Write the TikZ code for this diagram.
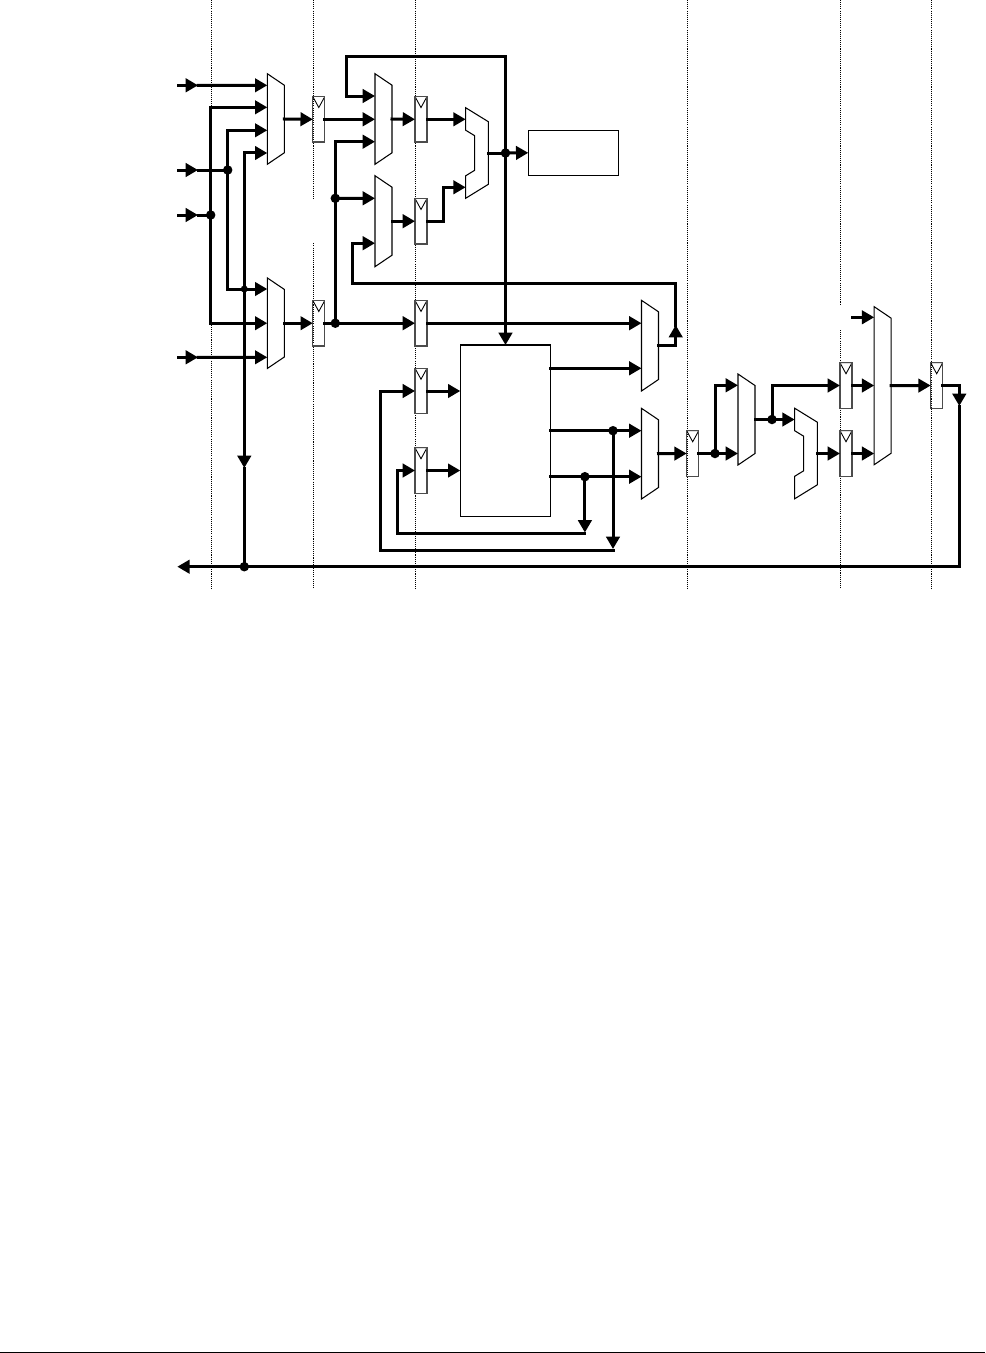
\documentclass[tikz,border=0pt]{standalone}
\usepackage{tikz}
\usetikzlibrary{arrows.meta}

\begin{document}
\begin{tikzpicture}[
    x=0.02cm, y=-0.02cm,
    wire/.style={line width=0.06cm, line cap=rect},
    bus/.style={wire, ->, >={Triangle[length=7pt, width=7.6pt]}},
    phase/.style={line width=0.55pt, dash pattern=on 0.6pt off 0.6pt},
    dot/.style={circle, fill=black, inner sep=0pt, minimum size=0.19cm},
    smalldot/.style={circle, fill=black, inner sep=0pt, minimum size=0.14cm},
    block/.style={rectangle, draw=black, line width=0.6pt, inner sep=0pt, outer sep=0pt},
    reg/.style={rectangle, draw=black!70, line width=0.75pt, inner sep=0pt, outer sep=0pt,
                minimum width=0.24cm, minimum height=0.91cm,
                path picture={\draw[draw=black, line width=0.5pt]
                    (path picture bounding box.north west)
                    -- (path picture bounding box.north east)
                    -- ([yshift=-0.22cm]path picture bounding box.north) -- cycle;}},
    mux/.style={rectangle, inner sep=0pt, outer sep=0pt, minimum width=0.34cm,
                append after command={\pgfextra{\draw[line width=0.6pt]
                    (\tikzlastnode.north west)
                    -- ([yshift=-0.23cm]\tikzlastnode.north east)
                    -- ([yshift=0.23cm]\tikzlastnode.south east)
                    -- (\tikzlastnode.south west) -- cycle;}}},
    adder/.style={rectangle, inner sep=0pt, outer sep=0pt, minimum width=0.454cm,
                minimum height=1.812cm,
                append after command={\pgfextra{\draw[line width=0.6pt]
                    (\tikzlastnode.north west)
                    -- ([yshift=-0.28cm]\tikzlastnode.north east)
                    -- ([yshift=0.28cm]\tikzlastnode.south east)
                    -- (\tikzlastnode.south west)
                    -- ([yshift=0.45cm]\tikzlastnode.south west)
                    -- ([xshift=0.18cm, yshift=0.56cm]\tikzlastnode.south west)
                    -- ([xshift=0.18cm, yshift=-0.56cm]\tikzlastnode.north west)
                    -- ([yshift=-0.45cm]\tikzlastnode.north west) -- cycle;}}},
  ]
    \useasboundingbox (0,0) rectangle (985,1353);

    % Pipeline stage lines
    \draw[phase] (211.7,0) -- (211.7,589);
    \draw[phase] (313.5,0) -- (313.5,199);
    \draw[phase] (313.5,243.3) -- (313.5,589);
    \draw[phase] (415.3,0) -- (415.3,589);
    \draw[phase] (687.3,0) -- (687.3,589);
    \draw[phase] (840.3,0) -- (840.3,305);
    \draw[phase] (840.3,330) -- (840.3,589);
    \draw[phase] (931.7,0) -- (931.7,589);

    % Rule at the foot of the page
    \coordinate (footL) at (0,1352.3);
    \coordinate (footR) at (985,1352.3);
    \draw[line width=0.026cm] (footL) -- (footR);

    % Muxes
    \node[mux, minimum height=1.812cm] (muxA) at (275.8,119) {};
    \node[mux, minimum height=1.812cm] (muxD) at (275.8,323.2) {};
    \node[mux, minimum height=1.812cm] (muxB) at (383.5,119) {};
    \node[mux, minimum height=1.82cm] (muxC) at (383.5,221.2) {};
    \node[mux, minimum height=1.814cm] (muxE) at (650,345.65) {};
    \node[mux, minimum height=1.814cm] (muxG) at (650,453.65) {};
    \node[mux, minimum height=1.82cm] (muxF) at (746.5,419.5) {};
    \node[mux, minimum height=3.16cm] (muxH) at (882.7,385.7) {};

    % Adders
    \node[adder] (addC) at (477,153) {};
    \node[adder] (addG) at (806,453.5) {};

    % Registers
    \node[reg] (regA) at (318.8,119.3) {};
    \node[reg] (regB) at (421,119.3) {};
    \node[reg] (regC) at (421,221.2) {};
    \node[reg] (regD) at (318.8,323.2) {};
    \node[reg] (regE) at (421,323.2) {};
    \node[reg] (regF) at (421,391) {};
    \node[reg] (regG) at (421,470.5) {};
    \node[reg] (regH) at (692.7,453.5) {};
    \node[reg] (regI) at (846,385.5) {};
    \node[reg] (regJ) at (846,453.5) {};
    \node[reg] (regK) at (936.7,385.5) {};

    % Blocks
    \node[block, minimum width=1.808cm, minimum height=0.9cm] (boxA) at (573.5,152.8) {};
    \node[block, minimum width=1.808cm, minimum height=3.434cm] (boxB) at (505.5,430.85) {};

    % Junctions
    \node[dot] (jB) at (227.7,170) {};
    \node[dot] (jC) at (210.7,215) {};
    \node[smalldot] (jF) at (244.3,289) {};
    \node[dot] (jG) at (244.3,566.7) {};
    \node[dot] (jH) at (505.5,153) {};
    \node[dot] (jI) at (335.3,323.2) {};
    \node[dot] (jJ) at (335.3,198.3) {};
    \node[dot] (jK) at (613,430.7) {};
    \node[dot] (jL) at (584.9,476.7) {};
    \node[dot] (jM) at (715,453.5) {};
    \node[dot] (jN) at (772,419.5) {};

    % Free ends, tips in the middle of a wire, and routing points
    \coordinate (inA) at (178.5,85.3);
    \coordinate (tipA) at (198,85.3);
    \coordinate (inB) at (178.5,170);
    \coordinate (tipB) at (198,170);
    \coordinate (inC) at (178.5,215);
    \coordinate (tipC) at (198,215);
    \coordinate (inD) at (178.5,357.3);
    \coordinate (tipD) at (198,357.3);
    \coordinate (inH) at (852.5,317.3);
    \coordinate (outA) at (177.3,566.7);
    \coordinate (tipE) at (244.3,468);
    \coordinate (tipF) at (675.7,325);
    \coordinate (tipK) at (613,549);
    \coordinate (tipL) at (584.9,532.5);
    \coordinate (tipR) at (959.3,406);
    \coordinate (fbTop) at (346,56);
    \coordinate (fbMid) at (352.7,283.3);
    \coordinate (cornerK) at (613,550);
    \coordinate (cornerL) at (584.9,533.3);
    \coordinate (routeK) at (380.3,470);
    \coordinate (routeL) at (397.3,500);
    \coordinate (pinE) at ([yshift=-0.453cm]muxE.west);

    % Inputs
    \draw[bus] (inA) -- (tipA);
    \draw[bus] (tipA) -- ([yshift=0.674cm]muxA.west);
    \draw[bus] (inB) -- (tipB);
    \draw[wire] (tipB) -- (jB.center);
    \draw[bus] (inC) -- (tipC);
    \draw[wire] (tipC) -- (jC.center);
    \draw[bus] (inD) -- (tipD);
    \draw[bus] (tipD) -- ([yshift=-0.682cm]muxD.west);
    \draw[bus] (jC.center) |- ([yshift=0.234cm]muxA.west);
    \draw[bus] (jC.center) |- (muxD.west);
    \draw[bus] (jB.center) |- ([yshift=-0.226cm]muxA.west);
    \draw[bus] (jB.center) |- ([yshift=0.684cm]muxD.west);

    % Bypass into the first muxes
    \draw[bus] (jF.center) |- ([yshift=-0.68cm]muxA.west);
    \draw[bus] (jF.center) -- (tipE);
    \draw[wire] (tipE) -- (jG.center);

    % Upper pipeline
    \draw[bus] (muxA.east) -- (regA.west);
    \draw[bus] (regA.east) -- (muxB.west |- regA.east);
    \draw[bus] (muxB.east) -- (regB.west);
    \draw[bus] (regB.east) -- (addC.west |- regB.east);
    \draw[bus] (muxC.east) -- (regC.west);
    \draw[bus] (regC.east) -- ++(16.3,0) |- ([yshift=-0.686cm]addC.west);
    \draw[wire] (addC.east) -- (jH.center);
    \draw[bus] (jH.center) -- (boxA.west);
    \draw[bus] (jH.center) |- (fbTop) |- ([yshift=0.46cm]muxB.west);
    \draw[bus] (jH.center) -- (boxB.north);

    % Lower pipeline
    \draw[bus] (muxD.east) -- (regD.west);
    \draw[wire] (regD.east) -- (jI.center);
    \draw[bus] (jI.center) -- (regE.west);
    \draw[bus] (regE.east) -- (muxE.west |- regE.east);
    \draw[bus] (jI.center) |- ([yshift=-0.454cm]muxB.west);
    \draw[bus] (jJ.center) -- ([yshift=0.458cm]muxC.west);
    \draw[bus] (muxE.east) -| (tipF);
    \draw[bus] (tipF) |- (fbMid) |- ([yshift=-0.44cm]muxC.west);

    % Block and its feedback
    \draw[bus] (regF.east) -- (boxB.west |- regF.east);
    \draw[bus] (regG.east) -- (boxB.west |- regG.east);
    \draw[bus] (boxB.east |- pinE) -- (pinE);
    \draw[bus] (boxB.east |- jK) -- (muxG.west |- jK);
    \draw[bus] (boxB.east |- jL) -- (muxG.west |- jL);
    \draw[bus] (jK.center) -- (tipK);
    \draw[bus] (cornerK) -| (routeK) |- (regF.west);
    \draw[bus] (jL.center) -- (tipL);
    \draw[bus] (cornerL) -| (routeL) |- (regG.west);

    % Last stages
    \draw[bus] (muxG.east) -- (regH.west);
    \draw[wire] (regH.east) -- (jM.center);
    \draw[bus] (jM.center) -- (muxF.west |- jM);
    \draw[bus] (jM.center) |- ([yshift=0.684cm]muxF.west);
    \draw[wire] (muxF.east) -- (jN.center);
    \draw[bus] (jN.center) -- (addG.west |- jN);
    \draw[bus] (jN.center) |- (regI.west);
    \draw[bus] (addG.east) -- (regJ.west);
    \draw[bus] (inH) -- (muxH.west |- inH);
    \draw[bus] (regI.east) -- (muxH.west |- regI.east);
    \draw[bus] (regJ.east) -- (muxH.west |- regJ.east);
    \draw[bus] (muxH.east) -- (regK.west);
    \draw[bus] (regK.east) -| (tipR);
    \draw[wire] (tipR) |- (jG.center);
    \draw[bus] (jG.center) -- (outA);
  \end{tikzpicture}
\end{document}
